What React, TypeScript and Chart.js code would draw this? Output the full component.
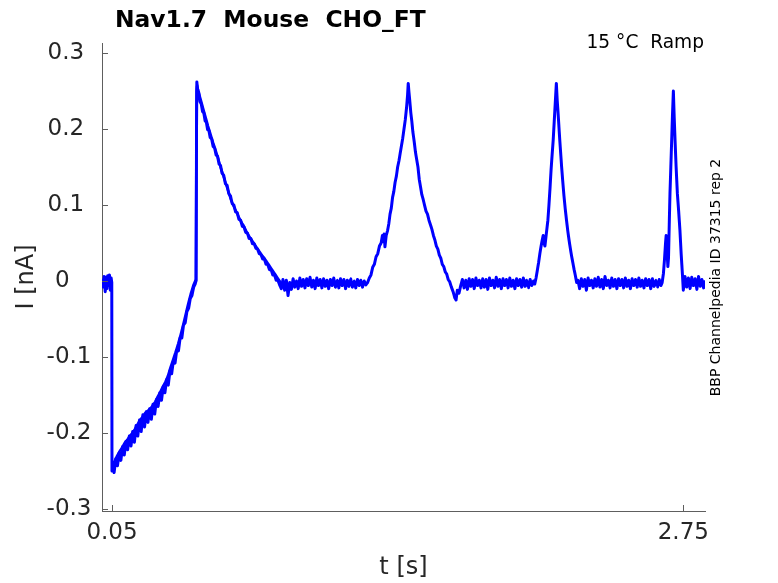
import { useEffect, useRef } from "react";
import { Chart, registerables } from "chart.js";

Chart.register(...registerables);

// ---- data (time in s, current in nA) ----
// sweep 1: the whole recording
const preStep: [number, number][] = [
  [0.004, 0.003], [0.009, -0.008], [0.013, 0.006], [0.018, -0.014], [0.022, 0.005], [0.026, -0.010],
  [0.030, 0.007], [0.034, -0.006], [0.038, 0.008], [0.042, -0.012], [0.046, 0.004], [0.049, -0.002],
];

const stepAndRise: [number, number][] = [
  [0.050, -0.250], [0.052, -0.243], [0.060, -0.252], [0.068, -0.234], [0.076, -0.243], [0.084, -0.226],
  [0.092, -0.236], [0.100, -0.218], [0.108, -0.229], [0.116, -0.211], [0.124, -0.222], [0.132, -0.204],
  [0.140, -0.217], [0.148, -0.198], [0.156, -0.212], [0.164, -0.190], [0.172, -0.204], [0.180, -0.183],
  [0.188, -0.198], [0.196, -0.176], [0.204, -0.192], [0.212, -0.172], [0.220, -0.186], [0.228, -0.168],
  [0.236, -0.182], [0.244, -0.162], [0.252, -0.175], [0.260, -0.156], [0.268, -0.165], [0.276, -0.147],
  [0.284, -0.157], [0.292, -0.139], [0.300, -0.147], [0.308, -0.130], [0.316, -0.137], [0.324, -0.118],
  [0.332, -0.122], [0.340, -0.105], [0.348, -0.108], [0.356, -0.091], [0.364, -0.092], [0.372, -0.075],
  [0.380, -0.075], [0.388, -0.058], [0.396, -0.055], [0.404, -0.040], [0.412, -0.036], [0.420, -0.023],
  [0.428, -0.019], [0.436, -0.008], [0.443, -0.004], [0.448, 0.001],
];

const firstPeak: [number, number][] = [
  [0.4495, 0.200], [0.451, 0.262], [0.454, 0.253], [0.460, 0.248], [0.466, 0.236], [0.472, 0.233],
  [0.478, 0.223], [0.484, 0.221], [0.490, 0.211], [0.496, 0.209], [0.502, 0.199], [0.508, 0.198],
  [0.514, 0.189], [0.521, 0.187], [0.528, 0.177], [0.535, 0.175], [0.542, 0.166], [0.549, 0.164],
  [0.556, 0.154], [0.563, 0.152], [0.570, 0.142], [0.578, 0.139], [0.586, 0.128], [0.594, 0.126],
  [0.602, 0.115], [0.610, 0.112], [0.618, 0.102], [0.626, 0.100], [0.634, 0.091], [0.642, 0.090],
  [0.650, 0.081], [0.658, 0.080], [0.666, 0.072], [0.674, 0.071], [0.682, 0.064], [0.690, 0.063],
  [0.698, 0.056], [0.706, 0.056], [0.714, 0.049], [0.722, 0.049], [0.730, 0.043], [0.738, 0.042],
  [0.746, 0.036], [0.754, 0.035], [0.762, 0.029], [0.770, 0.029], [0.778, 0.022], [0.786, 0.022],
  [0.794, 0.015], [0.802, 0.015], [0.810, 0.008], [0.818, 0.008], [0.826, 0.001], [0.834, 0.001],
  [0.842, -0.005],
];

const baseline1: [number, number][] = [
  [0.850, -0.010], [0.858, 0.002], [0.866, -0.012], [0.874, 0.001], [0.882, -0.019], [0.890, -0.002],
  [0.898, -0.011], [0.906, 0.003], [0.914, -0.008], [0.922, 0.000], [0.930, -0.010], [0.938, 0.004],
  [0.946, -0.007], [0.954, 0.002], [0.962, -0.009], [0.970, 0.003], [0.978, -0.006], [0.986, 0.005],
  [0.994, -0.008], [1.002, 0.001], [1.010, -0.010], [1.018, 0.004], [1.026, -0.006], [1.034, 0.002],
  [1.042, -0.009], [1.050, 0.003], [1.058, -0.007], [1.066, 0.001], [1.074, -0.010], [1.082, 0.002],
  [1.090, -0.006], [1.098, 0.004], [1.106, -0.008], [1.114, 0.001], [1.122, -0.009], [1.130, 0.003],
  [1.138, -0.006], [1.146, 0.002], [1.154, -0.010], [1.162, 0.001], [1.170, -0.007], [1.178, 0.003],
  [1.186, -0.008], [1.194, 0.000], [1.202, -0.009], [1.210, 0.002], [1.218, -0.006], [1.226, 0.001],
  [1.234, -0.008], [1.242, 0.000], [1.250, -0.005],
];

const secondPeak: [number, number][] = [
  [1.258, -0.002], [1.266, 0.004], [1.274, 0.008], [1.282, 0.018], [1.290, 0.022], [1.298, 0.032],
  [1.306, 0.036], [1.314, 0.046], [1.322, 0.050], [1.328, 0.060], [1.332, 0.052], [1.336, 0.062],
  [1.340, 0.045], [1.346, 0.060], [1.352, 0.066], [1.358, 0.075], [1.364, 0.088], [1.370, 0.096],
  [1.376, 0.110], [1.382, 0.118], [1.388, 0.130], [1.394, 0.138], [1.400, 0.150], [1.406, 0.158],
  [1.412, 0.168], [1.418, 0.178], [1.424, 0.188], [1.430, 0.200], [1.436, 0.212], [1.442, 0.228],
  [1.447, 0.245], [1.450, 0.260], [1.453, 0.250], [1.457, 0.238], [1.462, 0.222], [1.467, 0.210],
  [1.472, 0.196], [1.478, 0.184], [1.484, 0.170], [1.490, 0.160], [1.496, 0.150], [1.502, 0.134],
  [1.508, 0.124], [1.514, 0.114], [1.520, 0.108], [1.527, 0.100], [1.534, 0.092], [1.541, 0.088],
  [1.548, 0.080], [1.555, 0.074], [1.562, 0.068], [1.569, 0.060], [1.576, 0.054], [1.583, 0.046],
  [1.590, 0.042], [1.597, 0.034], [1.604, 0.030], [1.611, 0.022], [1.618, 0.019], [1.625, 0.012],
  [1.632, 0.009], [1.639, 0.002], [1.646, -0.001], [1.654, -0.008], [1.662, -0.014], [1.670, -0.022],
  [1.676, -0.025], [1.682, -0.012], [1.690, -0.016], [1.698, -0.006],
];

const baseline2: [number, number][] = [
  [1.706, 0.002], [1.714, -0.009], [1.722, 0.001], [1.730, -0.011], [1.738, 0.003], [1.746, -0.007],
  [1.754, 0.002], [1.762, -0.010], [1.770, 0.004], [1.778, -0.006], [1.786, 0.001], [1.794, -0.009],
  [1.802, 0.003], [1.810, -0.008], [1.818, 0.002], [1.826, -0.011], [1.834, 0.004], [1.842, -0.006],
  [1.850, 0.001], [1.858, -0.009], [1.866, 0.005], [1.874, -0.007], [1.882, 0.002], [1.890, -0.010],
  [1.898, 0.003], [1.906, -0.006], [1.914, 0.002], [1.922, -0.009], [1.930, 0.004], [1.938, -0.007],
  [1.946, 0.001], [1.954, -0.010], [1.962, 0.003], [1.970, -0.006], [1.978, 0.002], [1.986, -0.008],
  [1.994, 0.004], [2.002, -0.007], [2.010, 0.001], [2.018, -0.009], [2.026, 0.002], [2.034, -0.006],
  [2.042, 0.000], [2.048, -0.004],
];

const thirdPeak: [number, number][] = [
  [2.054, 0.004], [2.060, 0.014], [2.066, 0.024], [2.072, 0.036], [2.078, 0.046], [2.084, 0.055],
  [2.088, 0.060], [2.092, 0.050], [2.096, 0.046], [2.100, 0.056], [2.105, 0.068], [2.110, 0.080],
  [2.115, 0.100], [2.120, 0.122], [2.125, 0.146], [2.130, 0.166], [2.135, 0.185], [2.140, 0.210],
  [2.145, 0.235], [2.150, 0.260], [2.154, 0.238], [2.158, 0.222], [2.162, 0.204], [2.166, 0.186],
  [2.170, 0.170], [2.175, 0.150], [2.180, 0.132], [2.186, 0.112], [2.192, 0.095], [2.198, 0.080],
  [2.204, 0.066], [2.210, 0.054], [2.216, 0.043], [2.222, 0.033], [2.228, 0.024], [2.234, 0.015],
  [2.240, 0.007], [2.246, -0.002],
];

const baseline3: [number, number][] = [
  [2.252, 0.001], [2.260, -0.010], [2.268, 0.003], [2.276, -0.007], [2.284, 0.002], [2.292, -0.012],
  [2.300, 0.004], [2.308, -0.006], [2.316, 0.001], [2.324, -0.009], [2.332, 0.003], [2.340, -0.007],
  [2.348, 0.005], [2.356, -0.008], [2.364, 0.002], [2.372, -0.010], [2.380, 0.006], [2.388, -0.006],
  [2.396, 0.001], [2.404, -0.009], [2.412, 0.004], [2.420, -0.007], [2.428, 0.002], [2.436, -0.010],
  [2.444, 0.003], [2.452, -0.006], [2.460, 0.002], [2.468, -0.009], [2.476, 0.004], [2.484, -0.007],
  [2.492, 0.001], [2.500, -0.010], [2.508, 0.003], [2.516, -0.006], [2.524, 0.002], [2.532, -0.008],
  [2.540, 0.004], [2.548, -0.007], [2.556, 0.001], [2.564, -0.009], [2.572, 0.003], [2.580, -0.006],
  [2.588, 0.002], [2.596, -0.010], [2.604, 0.003], [2.612, -0.007], [2.620, 0.001], [2.628, -0.008],
  [2.636, 0.002], [2.644, -0.006], [2.650, -0.002],
];

const fourthPeak: [number, number][] = [
  [2.656, 0.010], [2.661, 0.028], [2.666, 0.050], [2.669, 0.060], [2.673, 0.040], [2.677, 0.019],
  [2.680, 0.030], [2.684, 0.080], [2.687, 0.115], [2.691, 0.150], [2.695, 0.185], [2.699, 0.220],
  [2.703, 0.250], [2.707, 0.215], [2.711, 0.185], [2.716, 0.150], [2.722, 0.115], [2.728, 0.092],
  [2.734, 0.067], [2.740, 0.035], [2.746, 0.008], [2.750, -0.012], [2.754, -0.004],
];

const baseline4: [number, number][] = [
  [2.758, 0.006], [2.766, -0.008], [2.774, 0.004], [2.782, -0.010], [2.790, 0.005], [2.798, -0.006],
  [2.806, 0.003], [2.814, -0.011], [2.822, 0.006], [2.830, -0.007], [2.838, 0.002], [2.846, -0.009],
  [2.850, 0.001],
];

// sweep 2: the overlapping repetition, visible where the sweeps diverge (step + first ramp)
const sweep2Rise: [number, number][] = [
  [0.050, -0.243], [0.062, -0.237], [0.074, -0.230], [0.086, -0.224], [0.098, -0.219], [0.110, -0.213],
  [0.122, -0.209], [0.134, -0.204], [0.146, -0.200], [0.158, -0.195], [0.170, -0.189], [0.182, -0.183],
  [0.194, -0.179], [0.206, -0.174], [0.218, -0.171], [0.230, -0.168], [0.242, -0.164], [0.254, -0.159],
  [0.266, -0.152], [0.278, -0.146], [0.290, -0.139], [0.302, -0.133], [0.314, -0.125], [0.326, -0.114],
  [0.338, -0.104], [0.350, -0.094], [0.362, -0.083], [0.374, -0.071], [0.386, -0.058], [0.398, -0.044],
  [0.410, -0.030], [0.422, -0.017], [0.434, -0.006], [0.446, 0.002],
];

const sweep2Decay: [number, number][] = [
  [0.4497, 0.250], [0.452, 0.258], [0.458, 0.250], [0.468, 0.240], [0.480, 0.228], [0.492, 0.216],
  [0.504, 0.204], [0.516, 0.193], [0.528, 0.182], [0.540, 0.172], [0.552, 0.161], [0.564, 0.149],
  [0.576, 0.139], [0.588, 0.128], [0.600, 0.118], [0.612, 0.107], [0.624, 0.099], [0.636, 0.092],
  [0.648, 0.085], [0.660, 0.078], [0.672, 0.073], [0.684, 0.066], [0.696, 0.060], [0.708, 0.055],
  [0.720, 0.050], [0.732, 0.045], [0.744, 0.040], [0.756, 0.035], [0.768, 0.031], [0.780, 0.026],
  [0.792, 0.021], [0.804, 0.016], [0.816, 0.011], [0.828, 0.006], [0.840, 0.001], [0.852, -0.004],
];

const sweep1Segments = [
  preStep, stepAndRise, firstPeak, baseline1, secondPeak, baseline2, thirdPeak, baseline3, fourthPeak, baseline4,
];
const sweep2Segments = [sweep2Rise, sweep2Decay];

const xTickValues = [0.05, 2.75];
const xTickLabels = ["0.05", "2.75"];
const yTickValues = [-0.3, -0.2, -0.1, 0, 0.1, 0.2, 0.3];
const yTickLabels = ["-0.3", "-0.2", "-0.1", "0", "0.1", "0.2", "0.3"];

const xRange = [0.0028, 2.8525];
const yRange = [-0.3026, 0.3132];

const chartTitle = "Nav1.7  Mouse  CHO_FT";
const conditionText = "15 °C  Ramp";
const sourceText = "BBP Channelpedia ID 37315 rep 2";
const xAxisTitle = "t [s]";
const yAxisTitle = "I [nA]";

// ---- styling ----
const FONT = "'DejaVu Sans', sans-serif";
const AXIS_COLOR = "#5e5e5e";
const TEXT_COLOR = "#262626";
const TRACE_COLOR = "#0000ff";

const decorations = {
  id: "decorations",
  afterDraw(chart: any) {
    const { ctx, chartArea, scales } = chart;
    ctx.save();
    // inward tick marks
    ctx.strokeStyle = AXIS_COLOR;
    ctx.lineWidth = 1;
    ctx.beginPath();
    for (const v of yTickValues) {
      const py = Math.round(scales.y.getPixelForValue(v)) + 0.5;
      ctx.moveTo(chartArea.left, py);
      ctx.lineTo(chartArea.left + 6, py);
    }
    for (const v of xTickValues) {
      const px = Math.round(scales.x.getPixelForValue(v)) + 0.5;
      ctx.moveTo(px, chartArea.bottom);
      ctx.lineTo(px, chartArea.bottom - 6);
    }
    ctx.stroke();

    // title
    ctx.fillStyle = "#000000";
    ctx.textBaseline = "alphabetic";
    ctx.textAlign = "left";
    ctx.font = `bold 23.4px ${FONT}`;
    ctx.fillText(chartTitle, 115, 26.8);

    // condition text
    ctx.fillStyle = "#000000";
    ctx.textAlign = "right";
    ctx.font = `18.6px ${FONT}`;
    ctx.fillText(conditionText, 704, 47.6);

    // rotated source note
    ctx.translate(720, 277.5);
    ctx.rotate(-Math.PI / 2);
    ctx.textAlign = "center";
    ctx.font = `14px ${FONT}`;
    ctx.fillText(sourceText, 0, 0);
    ctx.restore();
  },
};

export default function App() {
  const canvasRef = useRef<HTMLCanvasElement | null>(null);

  useEffect(() => {
    const canvas = canvasRef.current;
    if (!canvas) return;
    const toPoints = (segs: [number, number][][]) => segs.flat().map(([t, i]) => ({ x: t, y: i }));

    const chart = new Chart(canvas, {
      type: "line",
      data: {
        datasets: [
          {
            data: toPoints(sweep2Segments),
            borderColor: TRACE_COLOR,
            borderWidth: 2.5,
            borderJoinStyle: "round",
            pointRadius: 0,
            tension: 0.001,
            fill: false,
          },
          {
            data: toPoints(sweep1Segments),
            borderColor: TRACE_COLOR,
            borderWidth: 3,
            borderJoinStyle: "round",
            pointRadius: 0,
            tension: 0.001,
            fill: false,
          },
        ],
      },
      options: {
        responsive: false,
        animation: false,
        events: [],
        layout: { padding: { left: 0, right: 73, top: 43, bottom: 0 } },
        plugins: {
          legend: { display: false },
          tooltip: { enabled: false },
          title: { display: false },
        },
        scales: {
          x: {
            type: "linear",
            min: xRange[0],
            max: xRange[1],
            afterBuildTicks: (scale: any) => {
              scale.ticks = xTickValues.map((v) => ({ value: v }));
            },
            afterFit: (scale: any) => {
              scale.height = 72;
              scale.paddingLeft = 0;
              scale.paddingRight = 0;
            },
            grid: { display: false, drawTicks: false },
            border: { display: true, color: AXIS_COLOR, width: 1 },
            ticks: {
              autoSkip: false,
              maxRotation: 0,
              padding: 8.5,
              color: TEXT_COLOR,
              font: { family: FONT, size: 23 },
              callback: (_v: any, idx: number) => xTickLabels[idx],
            },
            title: {
              display: true,
              text: xAxisTitle,
              color: TEXT_COLOR,
              font: { family: FONT, size: 24 },
              padding: { top: 0, bottom: 0.5 },
            },
          },
          y: {
            type: "linear",
            min: yRange[0],
            max: yRange[1],
            afterBuildTicks: (scale: any) => {
              scale.ticks = yTickValues.map((v) => ({ value: v }));
            },
            afterFit: (scale: any) => {
              scale.width = 102;
              scale.paddingTop = 0;
              scale.paddingBottom = 0;
            },
            grid: { display: false, drawTicks: false },
            border: { display: true, color: AXIS_COLOR, width: 1 },
            ticks: {
              autoSkip: false,
              padding: 10.5,
              color: TEXT_COLOR,
              font: { family: FONT, size: 23 },
              callback: (_v: any, idx: number) => {
                const label = yTickLabels[idx];
                if (label === "0") return label + "   ";
                if (label.startsWith("-")) return label;
                return label + " ";
              },
            },
            title: {
              display: true,
              text: yAxisTitle,
              color: TEXT_COLOR,
              font: { family: FONT, size: 24 },
              padding: { top: 12.3, bottom: 0 },
            },
          },
        },
      },
      plugins: [decorations],
    });

    return () => chart.destroy();
  }, []);

  return (
    <div style={{ position: "absolute", left: 0, top: 0, width: 778, height: 583, background: "#ffffff" }}>
      <canvas ref={canvasRef} width={778} height={583} />
    </div>
  );
}
